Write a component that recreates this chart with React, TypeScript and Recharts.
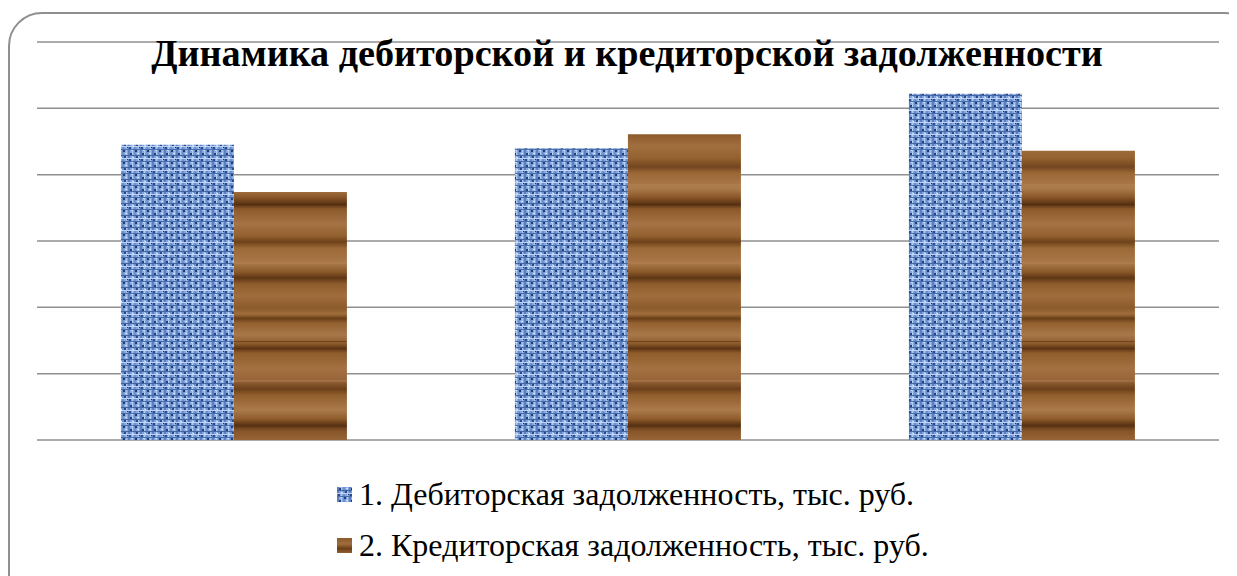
import React from 'react';
import { BarChart, Bar, XAxis, YAxis, CartesianGrid, Legend } from 'recharts';

const categories = ['Период 1', 'Период 2', 'Период 3'];
const receivables = [4.45, 4.4, 5.22];
const payables = [3.74, 4.61, 4.36];
const yTicks = [0, 1, 2, 3, 4, 5, 6];
const seriesNames = [
  '1. Дебиторская задолженность, тыс. руб.',
  '2. Кредиторская задолженность, тыс. руб.',
];
const title = 'Динамика дебиторской и кредиторской задолженности';

const data = categories.map((c, i) => ({ name: c, rec: receivables[i], pay: payables[i] }));

const SERIF = '"Liberation Serif", "Times New Roman", serif';

const woodStops: [number, string][] = [
  [0, '#8c5b2c'], [0.02, '#a06d3b'], [0.035, '#6a3f18'], [0.05, '#93602f'],
  [0.09, '#a9784a'], [0.12, '#8a5829'], [0.135, '#5c3414'], [0.15, '#8e5b2a'],
  [0.2, '#a47142'], [0.24, '#98653a'], [0.27, '#6b4019'], [0.29, '#915e2d'],
  [0.34, '#ab7a4b'], [0.37, '#8f5c2b'], [0.39, '#5a3212'], [0.41, '#87552a'],
  [0.46, '#a16e3e'], [0.5, '#94612f'], [0.53, '#744620'], [0.55, '#9a6735'],
  [0.6, '#ad7c4d'], [0.63, '#8b5929'], [0.655, '#573011'], [0.67, '#8c5a2a'],
  [0.72, '#a57345'], [0.76, '#93602f'], [0.78, '#6d4219'], [0.8, '#9b6836'],
  [0.85, '#aa794a'], [0.88, '#8a5828'], [0.9, '#5e3615'], [0.92, '#8f5c2c'],
  [0.96, '#a06d3d'], [1, '#8c5b2c'],
];

const Patterns = () => (
  <defs>
    <pattern id="bluePat" patternUnits="userSpaceOnUse" width="12" height="12">
      <rect x="0" y="0" width="12" height="12" fill="#84a6de" />
      <rect x="0" y="0" width="2" height="12" fill="#5d80c0" />
      <rect x="6" y="0" width="2" height="12" fill="#6e91cf" />
      <rect x="4" y="0" width="1" height="12" fill="#b2cbf3" />
      <rect x="10" y="0" width="1" height="12" fill="#a7c2ef" />
      <rect x="0" y="3" width="12" height="1" fill="#4566a5" />
      <rect x="0" y="9" width="12" height="1" fill="#4a6dac" />
      <rect x="0" y="6" width="12" height="1" fill="#bcd2f6" />
      <rect x="2" y="1" width="2" height="2" fill="#22427d" />
      <rect x="8" y="4" width="2" height="2" fill="#29498a" />
      <rect x="1" y="7" width="2" height="2" fill="#2a4c8c" />
      <rect x="7" y="10" width="2" height="2" fill="#1f3d76" />
      <rect x="5" y="5" width="1" height="2" fill="#d0e1fb" />
      <rect x="9" y="1" width="2" height="1" fill="#cfe0fa" />
      <rect x="3" y="10" width="2" height="1" fill="#c4d8f8" />
      <rect x="11" y="7" width="1" height="1" fill="#173465" />
    </pattern>
    <linearGradient id="woodGrad" x1="0" y1="0" x2="0" y2="1">
      {woodStops.map(([o, c]) => (
        <stop key={o} offset={o} stopColor={c} />
      ))}
    </linearGradient>
    <pattern id="woodPat" patternUnits="userSpaceOnUse" width="120" height="300">
      <rect x="0" y="0" width="120" height="300" fill="url(#woodGrad)" />
      <rect x="0" y="33" width="120" height="1" fill="#4e2b0e" opacity="0.5" />
      <rect x="0" y="118" width="120" height="1" fill="#4e2b0e" opacity="0.5" />
      <rect x="0" y="196" width="120" height="1" fill="#4e2b0e" opacity="0.5" />
      <rect x="0" y="72" width="120" height="2" fill="#b68250" opacity="0.4" />
      <rect x="0" y="176" width="120" height="2" fill="#b68250" opacity="0.4" />
      <rect x="0" y="254" width="120" height="2" fill="#b68250" opacity="0.4" />
    </pattern>
  </defs>
);

const LegendContent = () => (
  <div style={{ fontFamily: SERIF, fontSize: 32, color: '#000', lineHeight: '36px' }}>
    {seriesNames.map((n, i) => (
      <div
        key={n}
        style={{ display: 'flex', alignItems: 'flex-start', marginLeft: 329, height: 36, marginBottom: i === 0 ? 15 : 0 }}
      >
        <svg width={15} height={15} style={{ marginTop: 11, marginRight: 7, flex: 'none' }}>
          <rect width={15} height={15} fill={i === 0 ? 'url(#bluePat)' : 'url(#woodPat)'} />
        </svg>
        <span style={{ whiteSpace: 'nowrap' }}>{n}</span>
      </div>
    ))}
  </div>
);

export default function App() {
  return (
    <div style={{ position: 'relative', width: 1229, height: 568, overflow: 'hidden', background: '#fff' }}>
      <div
        style={{
          position: 'absolute',
          left: 0,
          top: 4,
          width: 1250,
          height: 620,
          border: '2px solid #8f8f8f',
          borderRadius: 34,
          boxSizing: 'border-box',
        }}
      />
      <div style={{ position: 'absolute', left: 0, top: 0 }}>
        <BarChart
          width={1229}
          height={568}
          data={data}
          margin={{ top: 34, right: 18, bottom: 136, left: 29 }}
          barCategoryGap="21.3%"
          barGap={0}
        >
          <Patterns />
          <CartesianGrid horizontal vertical={false} stroke="#8f8f8f" strokeWidth={1.5} />
          <XAxis dataKey="name" hide />
          <YAxis hide domain={[0, 6]} ticks={yTicks} />
          <Legend
            layout="horizontal"
            verticalAlign="middle"
            align="center"
            content={<LegendContent />}
            wrapperStyle={{ left: 0, top: 468, width: 1229 }}
          />
          <Bar dataKey="rec" name={seriesNames[0]} fill="url(#bluePat)" isAnimationActive={false} />
          <Bar dataKey="pay" name={seriesNames[1]} fill="url(#woodPat)" isAnimationActive={false} />
        </BarChart>
      </div>
      <div
        style={{
          position: 'absolute',
          left: 0,
          top: 23,
          width: 1238,
          textAlign: 'center',
          fontFamily: SERIF,
          fontWeight: 'bold',
          fontSize: 38.2,
          lineHeight: '44px',
          whiteSpace: 'nowrap',
        }}
      >
        {title}
      </div>
    </div>
  );
}
